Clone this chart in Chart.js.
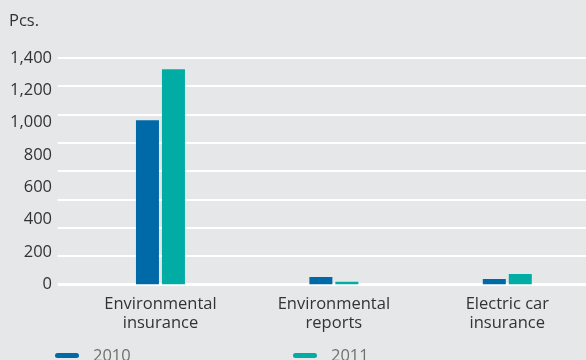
<!DOCTYPE html>
<html>
<head>
<meta charset="utf-8">
<script src="https://cdn.jsdelivr.net/npm/chart.js@4"></script>
<style>
  html, body { margin: 0; padding: 0; background: #e6e7e9; overflow: hidden; width: 586px; height: 360px; }
  #wrap { position: relative; width: 600px; height: 360px; }
  #unit { position: absolute; left: 9px; top: 8px; font: 16.5px 'Open Sans'; color: #333; }
  .leg { position: absolute; top: 345px; font: 16.5px 'Open Sans'; color: #707070; line-height: 20px; }
  .leg i { position: absolute; left: 0; top: 8px; width: 24px; height: 5px; border-radius: 3px; }
  .leg span { position: absolute; left: 38px; white-space: nowrap; }
</style>
</head>
<body>
<div id="wrap">
  <canvas id="myChart" width="600" height="360"></canvas>
  <div id="unit">Pcs.</div>
  <div id="legend"></div>
</div>
<script>
const categories = [['Environmental', 'insurance'], ['Environmental', 'reports'], ['Electric car', 'insurance']]
const years = ['2010', '2011']
const values2010 = [1015, 46, 34]
const values2011 = [1330, 17, 65]
const colors = ['#0069a7', '#00aca3']
const tickValues = [0, 200, 400, 600, 800, 1000, 1200, 1400]
const legendLeft = [55, 293]

function fillLegend() {
  const box = document.getElementById('legend')
  for (let i = 0; i < years.length; i++) {
    const item = document.createElement('div')
    item.className = 'leg'
    item.style.left = legendLeft[i] + 'px'
    item.innerHTML = '<i style="background:' + colors[i] + '"></i><span>' + years[i] + '</span>'
    box.appendChild(item)
  }
}

function fillChart() {
  const ctx = document.getElementById('myChart').getContext('2d')
  new Chart(ctx, {
    type: 'bar',
    data: {
      labels: categories,
      datasets: [
        { label: years[0], data: values2010, backgroundColor: colors[0], yAxisID: 'y' },
        { label: years[1], data: values2011, backgroundColor: colors[1], yAxisID: 'y' }
      ]
    },
    options: {
      responsive: false,
      animation: false,
      events: [],
      categoryPercentage: 0.2997,
      barPercentage: 0.885,
      layout: { padding: { top: 58, right: 6, left: 0, bottom: 0 } },
      plugins: { legend: { display: false }, tooltip: { enabled: false } },
      scales: {
        x: {
          offset: true,
          grid: { display: false },
          border: { display: false },
          ticks: {
            color: '#333',
            font: { family: 'Open Sans', size: 16.5, lineHeight: 1.15 },
            padding: 2,
            maxRotation: 0,
            autoSkip: false
          },
          afterFit: s => { s.height = 75.5 }
        },
        y: {
          position: 'left',
          weight: 1,
          min: 0,
          max: 1400,
          afterBuildTicks: s => { s.ticks = tickValues.map(v => ({ value: v })) },
          grid: { display: false, drawTicks: false },
          border: { display: false },
          ticks: {
            color: '#333',
            font: { family: 'Open Sans', size: 16.5 },
            padding: 6,
            callback: v => v.toLocaleString('en-US')
          },
          afterFit: s => { s.width = 58 }
        },
        y2: {
          position: 'left',
          weight: 0,
          min: 0,
          max: 1400,
          ticks: { display: false, stepSize: 175 },
          grid: {
            color: '#ffffff',
            lineWidth: c => c.tick && c.tick.value === 0 ? 3 : 2,
            drawTicks: true,
            tickLength: 16
          },
          border: { display: false },
          afterFit: s => { s.width = 15.75 }
        }
      }
    }
  })
}

fillLegend()
fillChart()
</script>
</body>
</html>
